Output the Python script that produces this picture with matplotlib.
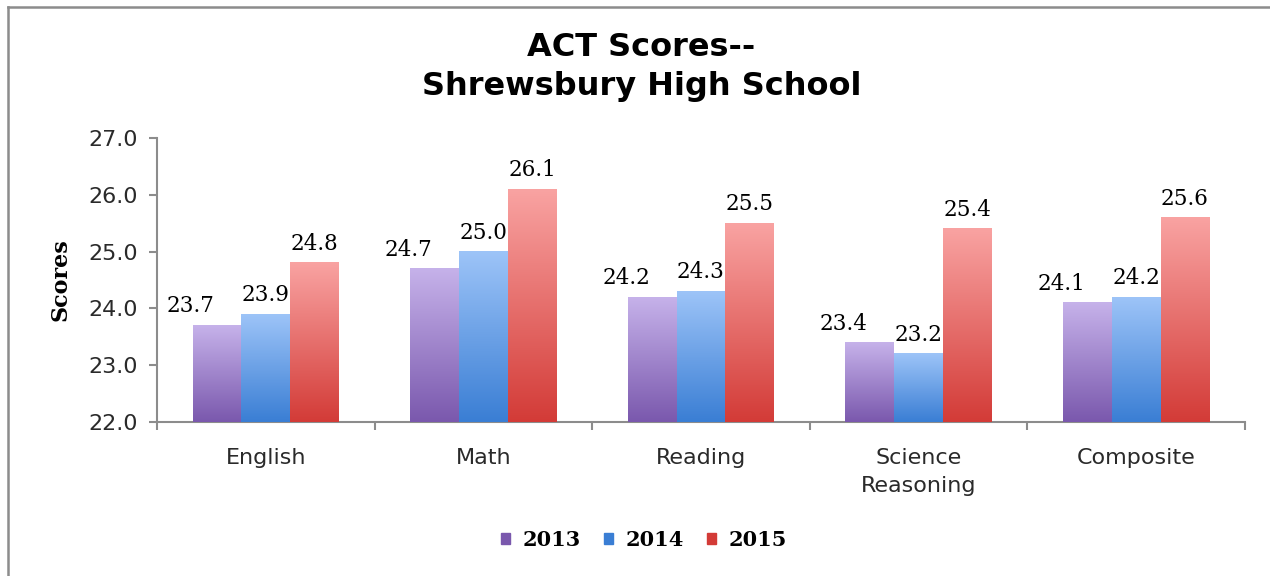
import numpy as np
from matplotlib import pyplot as plt
from matplotlib.colors import LinearSegmentedColormap
from matplotlib.lines import Line2D
from matplotlib.patches import Rectangle

categories = ["English", "Math", "Reading", "Science\nReasoning", "Composite"]
years = ["2013", "2014", "2015"]
scores_2013 = [23.7, 24.7, 24.2, 23.4, 24.1]
scores_2014 = [23.9, 25.0, 24.3, 23.2, 24.2]
scores_2015 = [24.8, 26.1, 25.5, 25.4, 25.6]

# (bottom colour, top colour) for the gradients
colours = [("#7a58ad", "#c6b2ea"), ("#3a7ed4", "#9dc4f8"), ("#d33b37", "#f9a3a2")]
# excel nudged the 2013 labels to the left
label_shift = [-0.12, 0.0, 0.0]

fig = plt.figure(figsize=(12.7, 5.76), dpi=100)
ax = fig.add_axes([157 / 1270, 1 - 422 / 576, (1245 - 157) / 1270, (422 - 138) / 576])

# outer frame of the chart (only left and top edges are visible)
fig.lines.append(Line2D([8 / 1270, 8 / 1270], [0, 1 - 7 / 576], transform=fig.transFigure,
                        color="#8c8c8c", linewidth=1.8))
fig.lines.append(Line2D([8 / 1270, 1], [1 - 7 / 576, 1 - 7 / 576], transform=fig.transFigure,
                        color="#8c8c8c", linewidth=1.8))

x = np.arange(len(categories))
w = 0.224
ymin = 22.0
ax.set_ylim(ymin, 27.0)
ax.set_xlim(-0.5, len(categories) - 0.5)

for i, (vals, (c0, c1)) in enumerate(zip([scores_2013, scores_2014, scores_2015], colours)):
    bars = ax.bar(x + (i - 1) * w, vals, w, color=c0, label=years[i], zorder=2)
    cmap = LinearSegmentedColormap.from_list("g", [c0, c1])
    grad = np.linspace(0, 1, 256).reshape(-1, 1)
    for b, v in zip(bars, vals):
        bx = b.get_x()
        ax.imshow(grad, cmap=cmap, aspect="auto", origin="lower",
                  extent=[bx, bx + b.get_width(), ymin, v], zorder=3)
        ax.text(bx + b.get_width() / 2 + label_shift[i], v + 0.14, f"{v:.1f}",
                ha="center", va="bottom", fontsize=15.5, family="DejaVu Serif", zorder=4)

ax.set_xlim(-0.5, len(categories) - 0.5)
ax.set_ylim(ymin, 27.0)
ax.set_yticks(np.arange(22, 27.5, 1.0))
ax.set_yticklabels([f"{t:.1f}" for t in np.arange(22, 27.5, 1.0)], fontsize=16, color="#2a2a2a")
ax.set_xticks(x)
ax.set_xticklabels(categories, fontsize=16, color="#2a2a2a", linespacing=1.45)
ax.set_xticks(np.arange(-0.5, len(categories)), minor=True)
ax.tick_params(axis="x", which="major", length=0, pad=19)
ax.tick_params(axis="x", which="minor", length=6, color="#8c8c8c", width=1.5)
ax.tick_params(axis="y", length=6, color="#8c8c8c", width=1.5, pad=8)
for s in ["top", "right"]:
    ax.spines[s].set_visible(False)
for s in ["left", "bottom"]:
    ax.spines[s].set_color("#8c8c8c")
    ax.spines[s].set_linewidth(1.5)

ax.set_ylabel("Scores", fontsize=16, fontweight="bold", family="DejaVu Serif", labelpad=12)
fig.text(0.505, 1 - 67 / 576, "ACT Scores--\nShrewsbury High School", ha="center", va="center",
         fontsize=23, fontweight="bold", linespacing=1.35)

handles = [Rectangle((0, 0), 1, 1, color=c0) for c0, c1 in colours]
fig.legend(handles, years, loc="center", bbox_to_anchor=(644 / 1270, 1 - 540 / 576), ncol=3,
           frameon=False, prop={"family": "DejaVu Serif", "size": 15, "weight": "bold"},
           handlelength=0.45, handleheight=0.45, handletextpad=0.6, columnspacing=1.1)

plt.savefig("out.png", dpi=100)
